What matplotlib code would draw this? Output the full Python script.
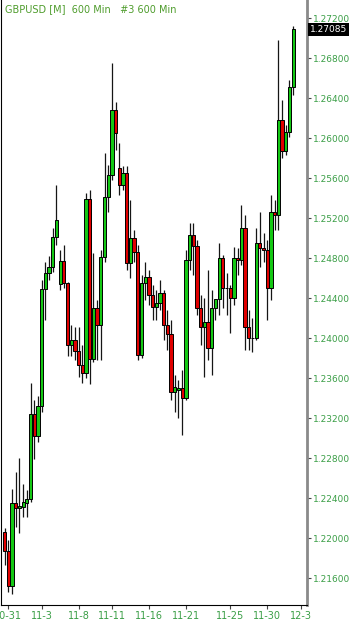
import matplotlib
matplotlib.use("Agg")
import matplotlib.pyplot as plt
import matplotlib.transforms as mtransforms
import numpy as np

# GBPUSD 600 min bars
opens = [1.2206, 1.2187, 1.2152, 1.2235, 1.2230, 1.2231, 1.2235, 1.2239, 1.2324, 1.2302,
         1.2332, 1.2449, 1.2465, 1.2471, 1.2501, 1.2454, 1.2477, 1.2455, 1.2393, 1.2398,
         1.2387, 1.2373, 1.2365, 1.2539, 1.2379, 1.2430, 1.2413, 1.2481, 1.2541, 1.2563,
         1.2628, 1.2570, 1.2553, 1.2565, 1.2475, 1.2500, 1.2486, 1.2383, 1.2455, 1.2461,
         1.2443, 1.2431, 1.2435, 1.2445, 1.2413, 1.2404, 1.2346, 1.2348, 1.2350, 1.2340,
         1.2478, 1.2503, 1.2492, 1.2430, 1.2411, 1.2416, 1.2390, 1.2430, 1.2439, 1.2480,
         1.2450, 1.2450, 1.2440, 1.2480, 1.2478, 1.2510, 1.2411, 1.2400, 1.2400, 1.2495,
         1.2490, 1.2488, 1.2450, 1.2526, 1.2523, 1.2618, 1.2587, 1.2606, 1.2651]
highs = [1.2210, 1.2198, 1.2249, 1.2266, 1.2280, 1.2254, 1.2248, 1.2355, 1.2338, 1.2342,
         1.2458, 1.2476, 1.2482, 1.2510, 1.2553, 1.2488, 1.2493, 1.2456, 1.2413, 1.2411,
         1.2411, 1.2393, 1.2545, 1.2548, 1.2485, 1.2438, 1.2488, 1.2585, 1.2573, 1.2675,
         1.2636, 1.2595, 1.2572, 1.2572, 1.2538, 1.2508, 1.2493, 1.2463, 1.2476, 1.2468,
         1.2453, 1.2448, 1.2458, 1.2448, 1.2428, 1.2418, 1.2363, 1.2358, 1.2368, 1.2488,
         1.2515, 1.2515, 1.2498, 1.2443, 1.2440, 1.2468, 1.2448, 1.2436, 1.2495, 1.2483,
         1.2465, 1.2453, 1.2491, 1.2490, 1.2533, 1.2523, 1.2428, 1.2420, 1.2510, 1.2526,
         1.2505, 1.2498, 1.2543, 1.2538, 1.2698, 1.2638, 1.2613, 1.2658, 1.2712]
lows = [1.2173, 1.2146, 1.2144, 1.2211, 1.2205, 1.2221, 1.2221, 1.2236, 1.2279, 1.2296,
        1.2326, 1.2418, 1.2458, 1.2466, 1.2493, 1.2448, 1.2450, 1.2382, 1.2382, 1.2378,
        1.2361, 1.2355, 1.2360, 1.2354, 1.2376, 1.2378, 1.2378, 1.2476, 1.2526, 1.2558,
        1.2588, 1.2543, 1.2548, 1.2468, 1.2460, 1.2476, 1.2378, 1.2380, 1.2438, 1.2433,
        1.2418, 1.2418, 1.2428, 1.2398, 1.2388, 1.2338, 1.2326, 1.2320, 1.2303, 1.2338,
        1.2468, 1.2463, 1.2423, 1.2393, 1.2361, 1.2378, 1.2363, 1.2418, 1.2423, 1.2430,
        1.2423, 1.2405, 1.2433, 1.2463, 1.2473, 1.2388, 1.2388, 1.2386, 1.2398, 1.2471,
        1.2476, 1.2418, 1.2438, 1.2508, 1.2508, 1.2580, 1.2583, 1.2601, 1.2643]
closes = [1.2187, 1.2152, 1.2235, 1.2230, 1.2232, 1.2236, 1.2239, 1.2324, 1.2302, 1.2332,
          1.2449, 1.2465, 1.2471, 1.2501, 1.2518, 1.2477, 1.2455, 1.2393, 1.2398, 1.2387,
          1.2373, 1.2365, 1.2539, 1.2379, 1.2430, 1.2413, 1.2481, 1.2541, 1.2563, 1.2628,
          1.2605, 1.2553, 1.2565, 1.2475, 1.2500, 1.2486, 1.2383, 1.2455, 1.2461, 1.2443,
          1.2431, 1.2435, 1.2445, 1.2413, 1.2404, 1.2346, 1.2351, 1.2350, 1.2340, 1.2478,
          1.2503, 1.2492, 1.2430, 1.2411, 1.2416, 1.2390, 1.2430, 1.2439, 1.2480, 1.2450,
          1.2450, 1.2440, 1.2480, 1.2478, 1.2510, 1.2411, 1.2400, 1.2400, 1.2495, 1.2490,
          1.2488, 1.2450, 1.2526, 1.2523, 1.2618, 1.2587, 1.2606, 1.2651, 1.27085]

date_ticks = [1, 10, 20, 29, 39, 49, 61, 71, 80]
date_labels = ["10-31", "11-3", "11-8", "11-11", "11-16", "11-21", "11-25", "11-30", "12-3"]
price_ticks = [1.216, 1.220, 1.224, 1.228, 1.232, 1.236, 1.240, 1.244,
               1.248, 1.252, 1.256, 1.260, 1.264, 1.268, 1.272]

GREEN_TXT = "#3a9e46"
UP = "#14c814"
DOWN = "#e00000"

fig = plt.figure(figsize=(3.51, 6.25), dpi=100)
ax = fig.add_axes([0.6 / 351, 20 / 625, 306.4 / 351, 605 / 625])

o = np.array(opens)
c = np.array(closes)
x = np.arange(len(o))
cols = [UP if cc >= oo else DOWN for oo, cc in zip(o, c)]

ax.vlines(x, lows, highs, color="#151515", linewidth=0.9, zorder=1)
ax.bar(x, np.abs(c - o), bottom=np.minimum(o, c), width=0.88,
       color=cols, edgecolor="black", linewidth=0.7, zorder=2)

ax.set_xlim(-1.1, 81.75)
ax.set_ylim(1.2133, 1.2738)

ax.yaxis.tick_right()
ax.set_yticks(price_ticks)
ax.set_yticklabels(["%.5f" % p for p in price_ticks])
ax.set_xticks(date_ticks)
ax.set_xticklabels(date_labels)
ax.tick_params(axis="y", direction="out", length=3, width=0.8, color="#444444",
               labelcolor=GREEN_TXT, labelsize=6.5, pad=1.2)
ax.tick_params(axis="x", direction="out", length=3, width=0.8, color="#444444",
               labelcolor=GREEN_TXT, labelsize=7, pad=1.5)

ax.spines["top"].set_visible(False)
ax.spines["right"].set_color("#8a8a8a")
ax.spines["right"].set_linewidth(2)
ax.spines["left"].set_color("black")
ax.spines["bottom"].set_color("black")

# last price tag
trans = mtransforms.blended_transform_factory(ax.transAxes, ax.transData)
ax.text(1.01, closes[-1], "%.5f" % closes[-1], transform=trans, ha="left", va="center",
        color="white", fontsize=6.5,
        bbox=dict(facecolor="black", edgecolor="none", pad=1.2))

fig.text(5 / 351, 1 - 9 / 625, "GBPUSD [M]  600 Min   #3 600 Min",
         color="#4e9c2c", fontsize=7, va="center", ha="left")

fig.savefig("out.png", dpi=100)
